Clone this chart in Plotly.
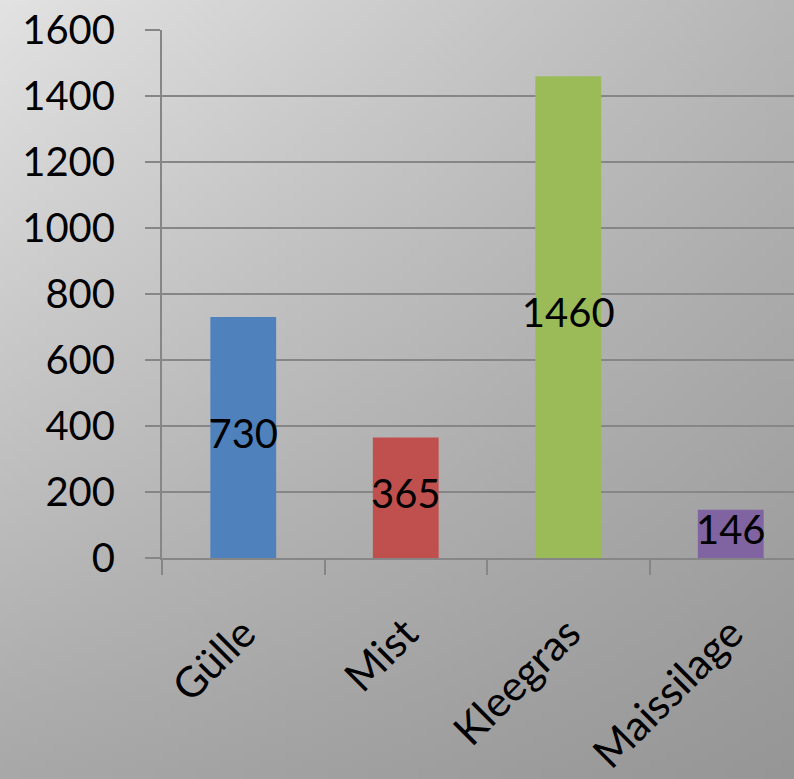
import base64, struct, zlib
import plotly.graph_objects as go

categories = ["Gülle", "Mist", "Kleegras", "Maissilage"]
values = [730, 365, 1460, 146]
bar_colors = ["#4F81BD", "#C0504D", "#9BBB59", "#8064A2"]
y_ticks = [0, 200, 400, 600, 800, 1000, 1200, 1400, 1600]

W, H = 794, 779
L, R, T, B = 162, 0, 30, 221


def gradient_png(w, h, tl, tr, bl, br):
    rows = []
    for j in range(h):
        fy = j / (h - 1)
        row = bytearray([0])
        for i in range(w):
            fx = i / (w - 1)
            v = (tl * (1 - fx) * (1 - fy) + tr * fx * (1 - fy)
                 + bl * (1 - fx) * fy + br * fx * fy)
            v = int(round(v))
            row += bytes([v, v, v])
        rows.append(bytes(row))
    raw = b"".join(rows)

    def chunk(t, d):
        c = struct.pack(">I", len(d)) + t + d
        return c + struct.pack(">I", zlib.crc32(t + d) & 0xffffffff)

    png = b"\x89PNG\r\n\x1a\n"
    png += chunk(b"IHDR", struct.pack(">IIBBBBB", w, h, 8, 2, 0, 0, 0))
    png += chunk(b"IDAT", zlib.compress(raw, 9))
    png += chunk(b"IEND", b"")
    return "data:image/png;base64," + base64.b64encode(png).decode()


bg = gradient_png(96, 96, 226, 182, 168, 150)

pw = W - L - R
ph = H - T - B

fig = go.Figure()
fig.add_trace(go.Bar(
    x=categories, y=values, marker=dict(color=bar_colors, line=dict(width=0)),
    width=0.405, showlegend=False, hoverinfo="skip",
))
fig.add_trace(go.Scatter(
    x=categories, y=[v / 2 for v in values], mode="text",
    text=[str(v) for v in values], textposition="middle center",
    textfont=dict(family="Lato", size=40, color="#000000"),
    showlegend=False, hoverinfo="skip", cliponaxis=False,
))

fig.update_layout(
    width=W, height=H,
    margin=dict(l=L, r=R, t=T, b=B, pad=0),
    paper_bgcolor="rgba(0,0,0,0)",
    plot_bgcolor="rgba(0,0,0,0)",
    font=dict(family="Lato", size=40, color="#000000"),
    images=[dict(
        source=bg, xref="paper", yref="paper",
        x=-L / pw, y=1 + T / ph, sizex=W / pw, sizey=H / ph,
        xanchor="left", yanchor="top", sizing="stretch", layer="below",
    )],
    xaxis=dict(
        range=[-0.5, -0.5 + pw / 162.5],
        automargin=False,
        tickangle=-45, tickson="boundaries",
        ticks="outside", ticklen=15, tickwidth=2, tickcolor="#868686",
        showline=True, linecolor="#868686", linewidth=2,
        showgrid=False, zeroline=False,
        tickfont=dict(family="Lato", size=42, color="#000000"),
        ticklabelstandoff=32,
    ),
    yaxis=dict(
        range=[0, 1600], tickvals=y_ticks,
        automargin=False,
        ticks="outside", ticklen=15, tickwidth=2, tickcolor="#868686",
        showline=True, linecolor="#868686", linewidth=2,
        showgrid=True, gridcolor="#868686", gridwidth=2,
        zeroline=False,
        tickfont=dict(family="Lato", size=40, color="#000000"),
        ticklabelstandoff=22,
    ),
)

fig.write_html(
    "out.html",
    config={"displayModeBar": False},
    post_script="document.body.style.margin='0px';document.body.style.overflow='hidden';",
)
